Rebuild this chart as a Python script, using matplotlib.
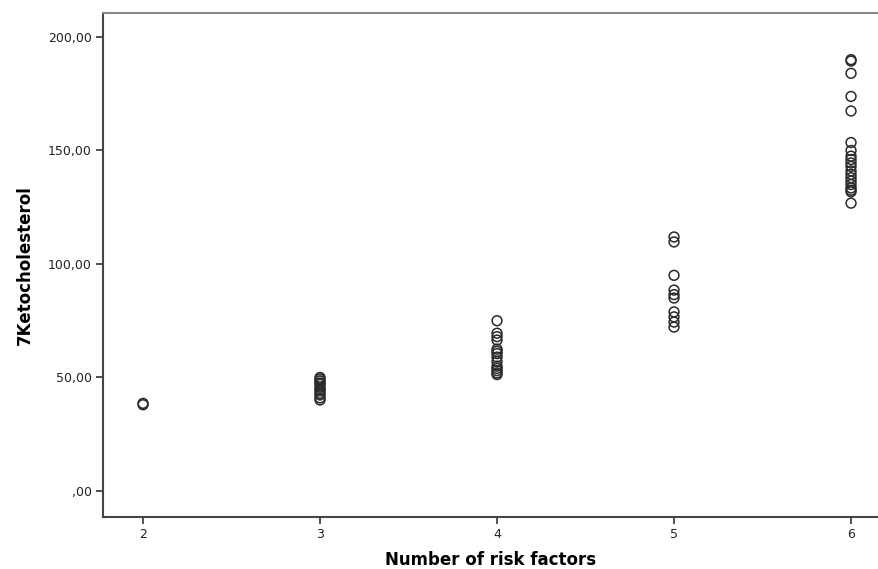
import matplotlib
matplotlib.use("Agg")
import matplotlib.pyplot as plt
import numpy as np

# Data (risk factors -> 7Ketocholesterol)
risk_2 = [38.0, 38.6]
risk_3 = [50.0, 49.3, 48.5, 47.6, 47.0, 45.8, 44.9, 44.1, 43.0, 42.3, 41.0, 40.1]
risk_4 = [75.0, 69.5, 68.0, 66.5, 62.5, 61.5, 60.5, 59.0, 57.0, 55.0, 54.0, 53.0, 52.0, 51.3]
risk_5 = [111.9, 109.7, 95.0, 88.5, 86.5, 85.0, 78.9, 76.7, 74.4, 72.2]
risk_6 = [190.0, 189.4, 184.0, 173.8, 167.4, 153.5, 150.0, 147.5, 146.0, 144.5,
          143.0, 141.0, 139.5, 138.0, 136.5, 135.0, 133.5, 132.5, 131.8, 126.8]

groups = {2: risk_2, 3: risk_3, 4: risk_4, 5: risk_5, 6: risk_6}
y_ticks = [0, 50, 100, 150, 200]
y_tick_labels = [",00", "50,00", "100,00", "150,00", "200,00"]
x_ticks = [2, 3, 4, 5, 6]

plt.rcParams['font.family'] = ['DejaVu Sans']

fig = plt.figure(figsize=(8.79, 5.69), dpi=100)
ax = fig.add_axes([0.1172, 0.0914, 0.8828, 0.8858])

for k, vals in groups.items():
    ax.scatter(np.full(len(vals), k), vals, s=50, facecolors='none',
               edgecolors='#2a2a2a', linewidths=1.1)

ax.set_xlim(1.774, 6.158)
ax.set_ylim(-11.45, 210.57)
ax.set_xticks(x_ticks)
ax.set_yticks(y_ticks)
ax.set_yticklabels(y_tick_labels)
ax.tick_params(axis='both', length=5, width=1.2, color='#333333',
               labelsize=9, labelcolor='#222222', pad=3)

for side in ['left', 'bottom']:
    ax.spines[side].set_color('#444444')
    ax.spines[side].set_linewidth(1.5)
ax.spines['top'].set_color('#888888')
ax.spines['top'].set_linewidth(1.5)
ax.spines['right'].set_visible(False)

ax.set_xlabel("Number of risk factors", fontsize=12, fontweight='bold', labelpad=7)
ax.set_ylabel("7Ketocholesterol", fontsize=12, fontweight='bold', labelpad=10)

fig.savefig("out.png", dpi=100)
